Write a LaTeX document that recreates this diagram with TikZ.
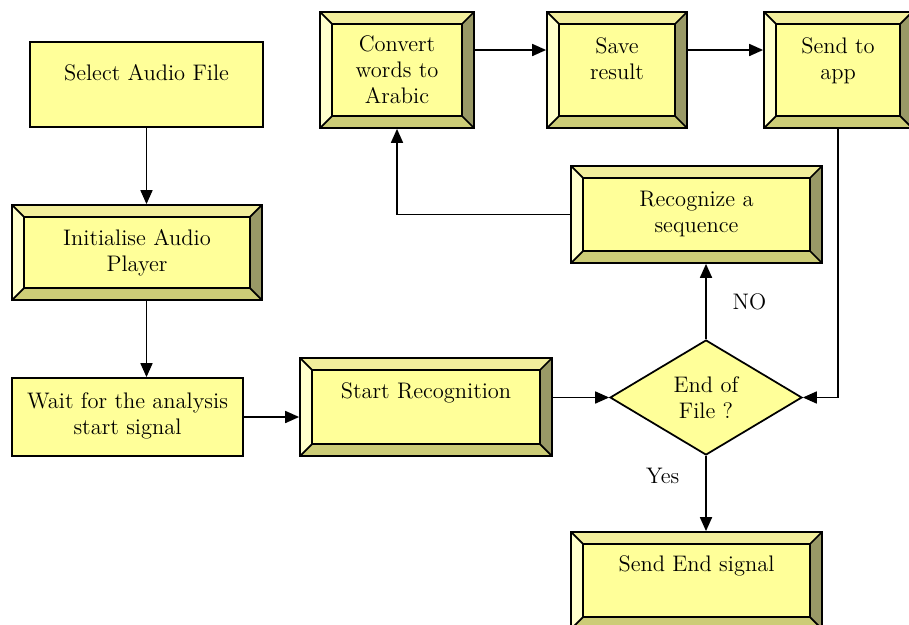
\documentclass[tikz,border=0pt]{standalone}
\usetikzlibrary{arrows.meta,shapes.geometric}

\definecolor{face}{HTML}{FFFF99}
\definecolor{bevleft}{HTML}{FFFFCC}
\definecolor{bevtop}{HTML}{F2EE9C}
\definecolor{bevright}{HTML}{999966}
\definecolor{bevbottom}{HTML}{CCCC77}

\newcommand{\bevelsize}{0.24cm}
\newcommand{\boxfont}{\fontsize{12.8}{14.8}\selectfont}

\tikzset{
  plainbox/.style={draw, line width=1pt, fill=face, align=center, font=\boxfont},
  bevelbox/.style={draw, line width=1pt, fill=face, align=center, font=\boxfont,
    path picture={
      \fill[bevtop] (path picture bounding box.north west) -- (path picture bounding box.north east)
        -- ([xshift=-\bevelsize,yshift=-\bevelsize]path picture bounding box.north east)
        -- ([xshift=\bevelsize,yshift=-\bevelsize]path picture bounding box.north west) -- cycle;
      \fill[bevleft] (path picture bounding box.north west) -- (path picture bounding box.south west)
        -- ([xshift=\bevelsize,yshift=\bevelsize]path picture bounding box.south west)
        -- ([xshift=\bevelsize,yshift=-\bevelsize]path picture bounding box.north west) -- cycle;
      \fill[bevright] (path picture bounding box.north east) -- (path picture bounding box.south east)
        -- ([xshift=-\bevelsize,yshift=\bevelsize]path picture bounding box.south east)
        -- ([xshift=-\bevelsize,yshift=-\bevelsize]path picture bounding box.north east) -- cycle;
      \fill[bevbottom] (path picture bounding box.south west) -- (path picture bounding box.south east)
        -- ([xshift=-\bevelsize,yshift=\bevelsize]path picture bounding box.south east)
        -- ([xshift=\bevelsize,yshift=\bevelsize]path picture bounding box.south west) -- cycle;
      \draw[line width=1pt] ([xshift=\bevelsize,yshift=-\bevelsize]path picture bounding box.north west)
        rectangle ([xshift=-\bevelsize,yshift=\bevelsize]path picture bounding box.south east);
      \draw[line width=1pt] (path picture bounding box.north west) -- ++(\bevelsize,-\bevelsize);
      \draw[line width=1pt] (path picture bounding box.north east) -- ++(-\bevelsize,-\bevelsize);
      \draw[line width=1pt] (path picture bounding box.south west) -- ++(\bevelsize,\bevelsize);
      \draw[line width=1pt] (path picture bounding box.south east) -- ++(-\bevelsize,\bevelsize);
    }},
  decision/.style={draw, diamond, line width=1pt, fill=face, align=center, font=\boxfont, inner sep=0pt},
  arr/.style={-{Triangle[length=0.28cm,width=0.24cm]}, line width=1pt}
}

\begin{document}
\begin{tikzpicture}[x=0.02cm,y=-0.02cm]
  \useasboundingbox (0,0) rectangle (909,625);

  % left column
  \node (select) [plainbox, minimum width=4.66cm, minimum height=1.7cm, text depth=0.5cm] at (146.5,84.5) {Select Audio File};
  \node (init) [bevelbox, minimum width=5cm, minimum height=1.9cm] at (137,252.5) {Initialise Audio\\Player};
  \node (wait) [plainbox, minimum width=4.62cm, minimum height=1.56cm, text depth=0.15cm] at (127.5,417) {Wait for the analysis\\start signal};

  % middle row
  \node (start) [bevelbox, minimum width=5.04cm, minimum height=1.96cm, text depth=0.64cm] at (426,407) {Start Recognition};
  \node (dec) [decision, minimum width=3.84cm, minimum height=2.3cm] at (706,397.5) {End of\\File ?};
  \node (recog) [bevelbox, minimum width=5.02cm, minimum height=1.94cm, text depth=0.12cm] at (696.5,214.5) {Recognize a\\sequence};
  \node (sendend) [bevelbox, minimum width=5.02cm, minimum height=1.94cm, text depth=0.68cm] at (696.5,580.5) {Send End signal};

  % top row
  \node (convert) [bevelbox, minimum width=3.08cm, minimum height=2.32cm] at (397,70) {Convert\\words to\\Arabic};
  \node (save) [bevelbox, minimum width=2.8cm, minimum height=2.32cm, text depth=0.44cm] at (617,70) {Save\\result};
  \node (sendapp) [bevelbox, minimum width=2.96cm, minimum height=2.32cm, text depth=0.44cm] at (838,70) {Send to\\app};

  % connectors
  \draw[arr] (select.south) -- (select.south |- init.north);
  \draw[arr] (init.south -| select.south) -- (select.south |- wait.north);
  \draw[arr] (wait.east) -- (wait.east -| start.west);
  \draw[arr] (dec.west -| start.east) -- (dec.west);
  \draw[arr] (dec.north) -- node[right=0.4cm, font=\boxfont] {NO} (dec.north |- recog.south);
  \draw[arr] (recog.west) -| (convert.south);
  \draw[arr] ([yshift=0.4cm]convert.east) -- ([yshift=0.4cm]save.west);
  \draw[arr] ([yshift=0.4cm]save.east) -- ([yshift=0.4cm]sendapp.west);
  \draw[arr] (sendapp.south) |- (dec.east);
  \draw[arr] (dec.south) -- node[pos=0.27, left=0.4cm, font=\boxfont] {Yes} (dec.south |- sendend.north);
\end{tikzpicture}
\end{document}
